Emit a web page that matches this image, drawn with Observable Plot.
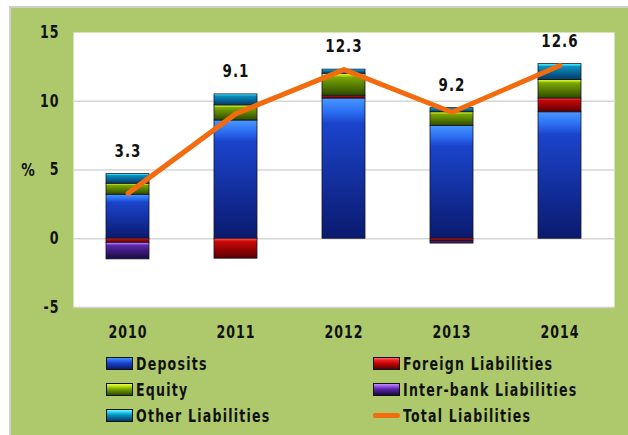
<!DOCTYPE html>
<html>
<head>
<meta charset="utf-8">
<script src="https://cdn.jsdelivr.net/npm/d3@7"></script>
<script src="https://cdn.jsdelivr.net/npm/@observablehq/plot@0.6"></script>
<style>
  html, body { margin: 0; padding: 0; background: #ffffff; }
  #box {
    position: absolute; left: 9px; top: 6px; width: 619px; height: 429px;
    border-top: 2px solid #cfcfcf; border-left: 2px solid #cfcfcf;
    background: #adc96c; overflow: hidden;
    font-family: 'DejaVu Sans Condensed', sans-serif;
  }
  #chart { position: absolute; left: 0; top: 0; }
  #legend {
    position: absolute; left: 95px; top: 346px;
    display: grid; grid-template-columns: 267px 240px; row-gap: 7px;
    font-weight: bold; font-size: 14px; letter-spacing: 1.2px; color: #111;
  }
  .item { display: flex; align-items: center; height: 19px; }
  .item span.t { display: inline-block; transform: scaleY(1.2); transform-origin: center; }
  .sw { width: 25px; height: 11px; border: 1px solid #111; margin-right: 3px; box-sizing: content-box; }
  .ln { width: 27px; height: 5px; margin-right: 3px; background: #f26b0f; border-radius: 2px; }
</style>
</head>
<body>
<div id="box">
  <div id="chart"></div>
  <div id="legend"></div>
</div>
<script>
const years = ["2010", "2011", "2012", "2013", "2014"];
const seriesNames = ["Deposits", "Foreign Liabilities", "Equity", "Inter-bank Liabilities", "Other Liabilities"];
const deposits   = [3.2, 8.6, 10.2, 8.2, 9.2];
const foreign    = [-0.3, -1.45, 0.2, -0.2, 1.0];
const equity     = [0.8, 1.1, 1.6, 1.0, 1.35];
const interbank  = [-1.2, 0, 0, -0.15, 0];
const other      = [0.7, 0.8, 0.3, 0.3, 1.15];
const totalLiab  = [3.3, 9.1, 12.3, 9.2, 12.6];
const yTicks = [-5, 0, 5, 10, 15];

const seriesValues = [deposits, foreign, equity, interbank, other];
const gradients = {
  "Deposits":               ["#4a98ff", "#2a6ef2", "#1b44cc", "#0a1a6e"],
  "Foreign Liabilities":    ["#ff6a6a", "#f02020", "#c80808", "#5a0000"],
  "Equity":                 ["#e8ff50", "#bde010", "#7aa800", "#2e4a00"],
  "Inter-bank Liabilities": ["#c090ff", "#9858e8", "#5a28a8", "#1a0840"],
  "Other Liabilities":      ["#80f4ff", "#20d4f4", "#0a90c0", "#053a68"]
};
const gradId = s => "g" + seriesNames.indexOf(s);

const data = years.flatMap((yr, i) =>
  seriesNames.map((s, j) => ({year: yr, series: s, value: seriesValues[j][i]})));
const totals = years.map((yr, i) => ({
  year: yr,
  total: totalLiab[i],
  top: Math.max(totalLiab[i], seriesValues.reduce((a, v) => a + Math.max(0, v[i]), 0))
}));

const chart = Plot.plot({
  width: 617, height: 337,
  marginLeft: 62, marginRight: 14, marginTop: 24, marginBottom: 38,
  style: {background: "transparent", fontFamily: "'DejaVu Sans Condensed',sans-serif", fontSize: "14px", fontWeight: "bold", color: "#111"},
  x: {domain: years, paddingInner: 0.6, paddingOuter: 0.3, label: null, tickSize: 0, tickPadding: 19},
  y: {domain: [-5, 15], ticks: yTicks, tickFormat: d => String(d), label: null, tickSize: 0, tickPadding: 14},
  color: {domain: seriesNames, range: seriesNames.map(s => `url(#${gradId(s)})`)},
  marks: [
    Plot.frame({fill: "white", stroke: null}),
    Plot.ruleY([0, 5, 10], {stroke: "#d6d6d6", strokeWidth: 1.5}),
    Plot.ruleY([-5], {stroke: "#cfcfcf", strokeWidth: 1.5}),
    Plot.barY(data, {x: "year", y: "value", fill: "series", stroke: "#151525", strokeWidth: 0.8}),
    Plot.lineY(totals, {x: "year", y: "total", stroke: "#f26b0f", strokeWidth: 5}),
    Plot.text(totals, {x: "year", y: "top", text: d => d.total.toFixed(1), dy: -23, fontSize: 15, fontWeight: "bold", fill: "#111"}),
    Plot.text(["%"], {frameAnchor: "left", dx: -45, textAnchor: "middle", fontSize: 15, fontWeight: "bold", fill: "#111"})
  ]
});

const ns = "http://www.w3.org/2000/svg";
const defs = document.createElementNS(ns, "defs");
seriesNames.forEach(s => {
  const g = document.createElementNS(ns, "linearGradient");
  g.setAttribute("id", gradId(s));
  g.setAttribute("x1", "0"); g.setAttribute("y1", "0");
  g.setAttribute("x2", "0"); g.setAttribute("y2", "1");
  const c = gradients[s];
  [[0, c[0]], [0.1, c[1]], [0.18, c[2]], [1, c[3]]].forEach(([o, col]) => {
    const st = document.createElementNS(ns, "stop");
    st.setAttribute("offset", o);
    st.setAttribute("stop-color", col);
    g.appendChild(st);
  });
  defs.appendChild(g);
});
chart.insertBefore(defs, chart.firstChild);
chart.querySelectorAll("text").forEach(t => {
  t.setAttribute("letter-spacing", "1");
  const tr = t.getAttribute("transform");
  if (tr && tr.startsWith("translate")) t.setAttribute("transform", tr + " scale(1,1.2)");
});
document.getElementById("chart").appendChild(chart);

const legendOrder = ["Deposits", "Foreign Liabilities", "Equity", "Inter-bank Liabilities", "Other Liabilities", "Total Liabilities"];
const legend = document.getElementById("legend");
legendOrder.forEach(name => {
  const item = document.createElement("div");
  item.className = "item";
  const sw = document.createElement("span");
  if (name === "Total Liabilities") {
    sw.className = "ln";
  } else {
    const c = gradients[name];
    sw.className = "sw";
    sw.style.background = `linear-gradient(to bottom, ${c[0]} 0%, ${c[1]} 20%, ${c[2]} 45%, ${c[3]} 100%)`;
  }
  const t = document.createElement("span");
  t.className = "t";
  t.textContent = name;
  item.appendChild(sw);
  item.appendChild(t);
  legend.appendChild(item);
});
</script>
</body>
</html>
